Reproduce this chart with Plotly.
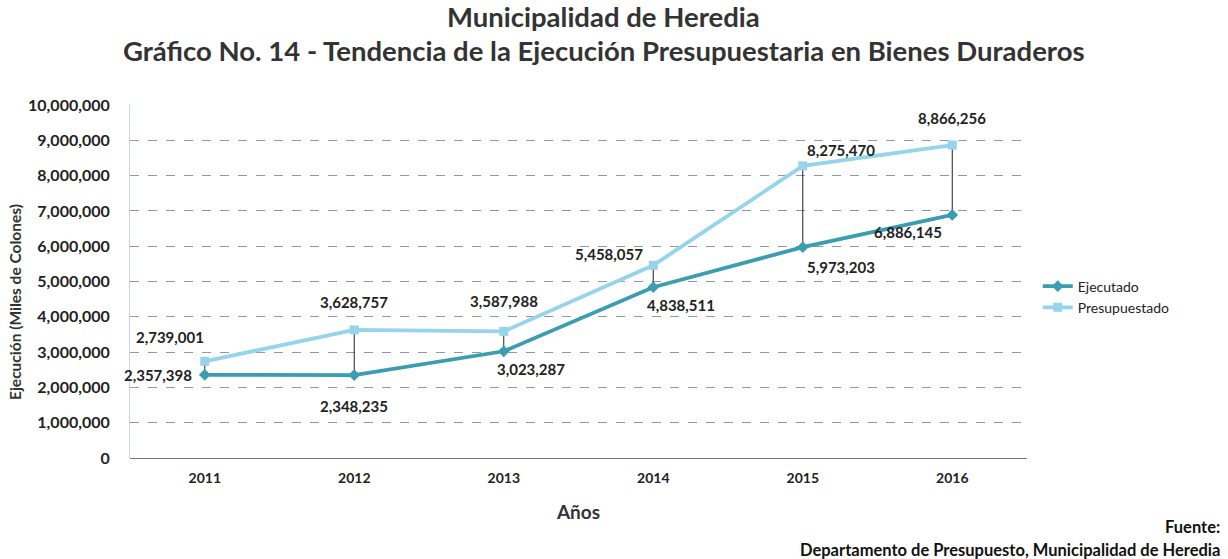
import plotly.graph_objects as go

years = [2011, 2012, 2013, 2014, 2015, 2016]
ejecutado = [2357398, 2348235, 3023287, 4838511, 5973203, 6886145]
presupuestado = [2739001, 3628757, 3587988, 5458057, 8275470, 8866256]
y_ticks = list(range(0, 10000001, 1000000))

# label offsets (pixels) for data labels
pres_shift = [(-35, 24), (0, 28), (0, 30), (-44, 11), (38, 16), (0, 27)]
ejec_shift = [(-47, 0), (0, -31), (27, -18), (28, -18), (38, -20), (-44, -17)]

C_EJ = "#3a9db0"
C_PR = "#95d4ea"
FONT = "Lato"
TXT = "#222222"

fig = go.Figure()

# drop lines between the two series
dx, dy = [], []
for x, a, b in zip(years, ejecutado, presupuestado):
    dx += [x, x, None]
    dy += [a, b, None]
fig.add_trace(go.Scatter(x=dx, y=dy, mode="lines", line=dict(color="#222222", width=1),
                         showlegend=False, hoverinfo="skip"))

fig.add_trace(go.Scatter(x=years, y=ejecutado, name="Ejecutado", mode="lines+markers",
                         line=dict(color=C_EJ, width=3.8),
                         marker=dict(symbol="diamond", size=9, color=C_EJ)))
fig.add_trace(go.Scatter(x=years, y=presupuestado, name="Presupuestado", mode="lines+markers",
                         line=dict(color=C_PR, width=3.8),
                         marker=dict(symbol="square", size=9, color=C_PR)))

for x, v, (sx, sy) in zip(years, presupuestado, pres_shift):
    fig.add_annotation(x=x, y=v, text=f"<b>{v:,}</b>", showarrow=False, xshift=sx, yshift=sy,
                       font=dict(family=FONT, size=15, color=TXT))
for x, v, (sx, sy) in zip(years, ejecutado, ejec_shift):
    fig.add_annotation(x=x, y=v, text=f"<b>{v:,}</b>", showarrow=False, xshift=sx, yshift=sy,
                       font=dict(family=FONT, size=15, color=TXT))

# titles
fig.add_annotation(xref="paper", yref="paper", x=0.528, y=1.252, xanchor="center", yanchor="middle",
                   text="<b>Municipalidad de Heredia</b>", showarrow=False,
                   font=dict(family=FONT, size=27.5, color="#333"))
fig.add_annotation(xref="paper", yref="paper", x=0.528, y=1.155, xanchor="center", yanchor="middle",
                   text="<b>Gráfico No. 14 - Tendencia de la Ejecución Presupuestaria en Bienes Duraderos</b>",
                   showarrow=False, font=dict(family=FONT, size=27.5, color="#333"))

# y axis title
fig.add_annotation(xref="paper", yref="paper", x=0, xshift=-115, y=0.442, xanchor="center", yanchor="middle",
                   text="<b>Ejecución (Miles de Colones)</b>", textangle=-90, showarrow=False,
                   font=dict(family=FONT, size=15.5, color="#333"))

# source
fig.add_annotation(xref="paper", yref="paper", x=1.217, y=-0.195, xanchor="right", yanchor="middle",
                   text="<b>Fuente:</b>", showarrow=False, font=dict(family=FONT, size=16.5, color="#111"))
fig.add_annotation(xref="paper", yref="paper", x=1.217, y=-0.26, xanchor="right", yanchor="middle",
                   text="<b>Departamento de Presupuesto, Municipalidad de Heredia</b>", showarrow=False,
                   font=dict(family=FONT, size=16.5, color="#111"))

fig.update_layout(
    width=1228, height=559,
    margin=dict(l=130, r=201, t=105, b=101),
    paper_bgcolor="white", plot_bgcolor="white",
    font=dict(family=FONT, color=TXT),
    legend=dict(x=1.012, y=0.456, xanchor="left", yanchor="middle",
                font=dict(family=FONT, size=14, color=TXT), tracegroupgap=8,
                bgcolor="rgba(0,0,0,0)"),
    xaxis=dict(range=[2010.5, 2016.5], tickvals=years, ticktext=[f"<b>{y}</b>" for y in years],
               showgrid=False, zeroline=False, showline=False, ticks="", ticklabelstandoff=10,
               tickfont=dict(family=FONT, size=14, color=TXT),
               title=dict(text="<b>Años</b>", font=dict(family=FONT, size=19, color="#333"), standoff=20)),
    yaxis=dict(range=[0, 10000000], tickvals=y_ticks, ticktext=[f"<b>{v:,}</b>" for v in y_ticks],
               showgrid=True, gridcolor="#8e9aa2", griddash="dash", gridwidth=1,
               zeroline=True, zerolinecolor="#777", zerolinewidth=1,
               showline=True, linecolor="#c5dbe3",
               ticks="", ticklabelstandoff=16,
               tickfont=dict(family=FONT, size=16, color=TXT)),
)

fig.write_html("out.html", config={"displayModeBar": False},
               post_script="document.body.style.margin='0';")
